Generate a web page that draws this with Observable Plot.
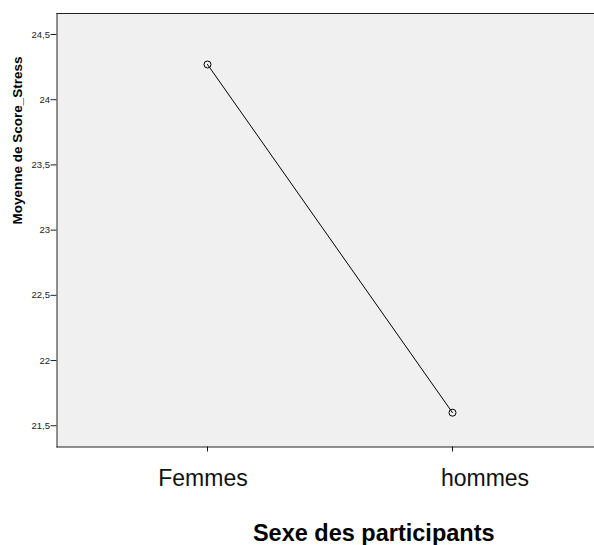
<!DOCTYPE html>
<html>
<head>
<meta charset="utf-8">
<script src="https://cdn.jsdelivr.net/npm/d3@7"></script>
<script src="https://cdn.jsdelivr.net/npm/@observablehq/plot@0.6"></script>
<style>
  html, body { margin: 0; padding: 0; background: #fff; }
  #chart svg { display: block; }
</style>
</head>
<body>
<div id="chart"></div>
<script>
const categories = ["Femmes", "hommes"];
const means = [24.27, 21.6];
const yTicks = [21.5, 22, 22.5, 23, 23.5, 24, 24.5];
const xTitle = "Sexe des participants";
const yTitle = "Moyenne de Score_Stress";

const data = categories.map((c, i) => ({sexe: c, moyenne: means[i]}));
const fmt = d => String(d).replace(".", ",");

const chart = Plot.plot({
  width: 594,
  height: 545,
  marginLeft: 56.5,
  marginRight: 0,
  marginTop: 13,
  marginBottom: 98.5,
  style: {fontFamily: "Liberation Sans, Arial, sans-serif", background: "#fff"},
  x: {type: "point", domain: categories, padding: 0.5925, align: 0.5146},
  y: {domain: [21.337, 24.661]},
  marks: [
    Plot.frame({fill: "#f0f0f0", stroke: "none"}),
    Plot.frame({anchor: "top", stroke: "#222", strokeWidth: 1}),
    Plot.frame({anchor: "left", stroke: "#222", strokeWidth: 1}),
    Plot.frame({anchor: "bottom", stroke: "#222", strokeWidth: 1}),
    Plot.axisY({ticks: yTicks, tickFormat: fmt, tickSize: 6, tickPadding: 1, fontSize: 9.5, color: "#222", label: null}),
    Plot.axisX({tickSize: 5, tickFormat: () => "", color: "#111", label: null}),
    Plot.axisX({ticks: [categories[0]], tickSize: 0, tickPadding: 22.2, dx: -4.5, fontSize: 23, color: "#111", label: null}),
    Plot.axisX({ticks: [categories[1]], tickSize: 0, tickPadding: 22.2, dx: 32.5, fontSize: 23, color: "#111", label: null}),
    Plot.line(data, {x: "sexe", y: "moyenne", stroke: "#000", strokeWidth: 1}),
    Plot.dot(data, {x: "sexe", y: "moyenne", r: 3.5, stroke: "#000", strokeWidth: 1, fill: "none"}),
    Plot.text([xTitle], {frameAnchor: "bottom", lineAnchor: "top", dx: 48, dy: 77.2, fontSize: 23.5, fontWeight: "bold", fill: "#000"}),
    Plot.text([yTitle], {frameAnchor: "left", rotate: -90, dx: -39.5, dy: -5.75, fontSize: 13.5, fontWeight: "bold", fill: "#000"})
  ]
});
document.getElementById("chart").appendChild(chart);
</script>
</body>
</html>
